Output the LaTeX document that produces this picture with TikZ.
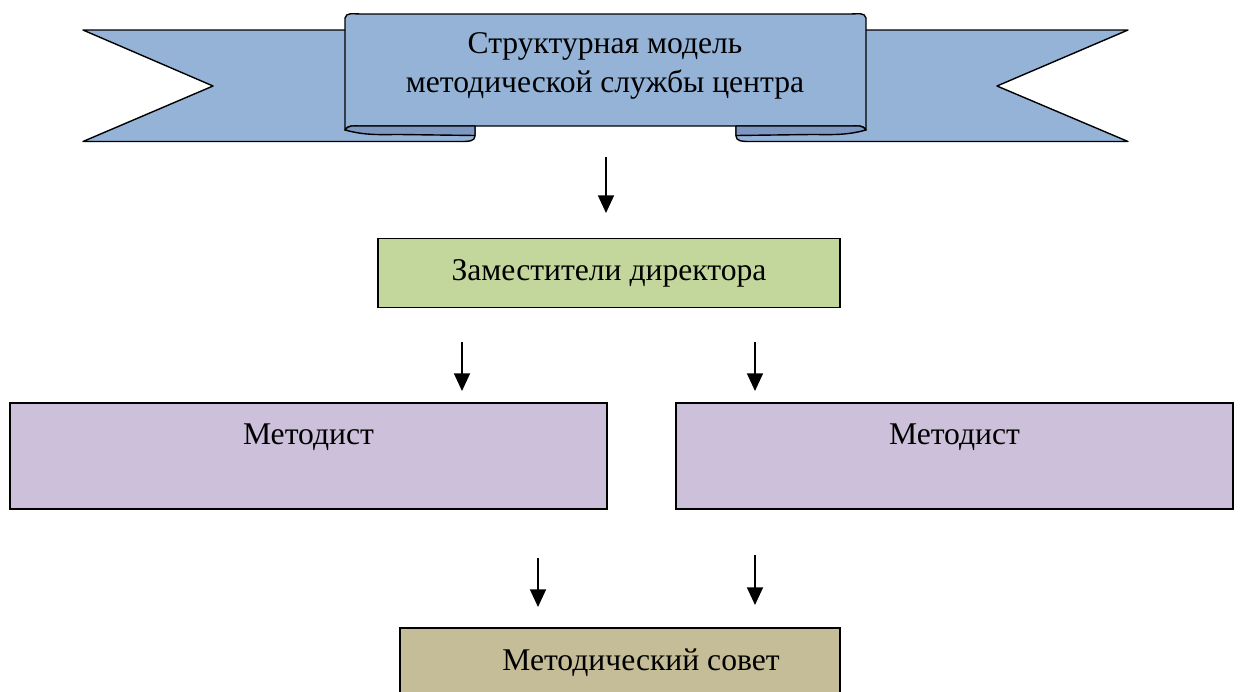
\documentclass[tikz,border=0pt]{standalone}
\usepackage{fontspec}
\setmainfont{Liberation Serif}
\usetikzlibrary{arrows.meta, positioning}

\definecolor{bannerblue}{HTML}{95B3D7}
\definecolor{curlblue}{HTML}{7E98C2}
\definecolor{zamgreen}{HTML}{C3D69B}
\definecolor{metpurple}{HTML}{CCC0DA}
\definecolor{sovettan}{HTML}{C4BD97}

\tikzset{
    box/.style={draw, line width=0.8pt, inner sep=0pt, font=\fontsize{18}{21.5}\selectfont},
    banner/.style={draw, line width=0.8pt, fill=bannerblue, line join=round},
    down/.style={-{Triangle[length=10pt,width=9pt]}, line width=1.1pt}
}

\begin{document}
\begin{tikzpicture}[x=0.02cm, y=-0.02cm]
            \clip (0,0) rectangle (1242,691);
            \useasboundingbox (0,0) rectangle (1242,691);
            % ribbon
            \draw[banner] (83,30) -- (475,30) -- (475,136) to[out=-90,in=0] (462,141.5) -- (83,141.5) -- (213,86) -- cycle;
            \draw[banner] (1128,30) -- (736,30) -- (736,136) to[out=-90,in=180] (749,141.5) -- (1128,141.5) -- (997,86) -- cycle;
            \draw[banner] (345,130) -- (345,18) to[out=80,in=180] (360,14) -- (851,14) to[out=0,in=100] (866,18)
                -- (866,130) to[out=120,in=0] (851,126) -- (360,126) to[out=180,in=60] cycle;
            \draw[banner, fill=curlblue] (345,130) to[out=60,in=180] (360,126) -- (475,126) -- (475,135.5) -- (400,134.5) to[out=180,in=-15] cycle;
            \draw[banner, fill=curlblue] (866,130) to[out=120,in=0] (851,126) -- (736,126) -- (736,135.5) -- (811,134.5) to[out=0,in=195] cycle;
            \node[font=\fontsize{18}{22.5}\selectfont, align=center] (title) at (605,66) {Структурная модель\\методической службы центра};

            % boxes
            \node[box, fill=zamgreen, minimum width=9.24cm, minimum height=1.38cm] (zam) at (609,273) {Заместители директора};
            \node[box, fill=metpurple, minimum width=11.94cm, text height=0.82cm, text depth=1.3cm] (metL) at (308.5,456) {Методист};
            \node[box, fill=metpurple, minimum width=11.14cm, text height=0.82cm, text depth=1.3cm] (metR) at (954.5,456) {Методист};
            \node[box, fill=sovettan, minimum width=8.8cm, minimum height=2.24cm] (sovet) at (620,684) {};
            \node[font=\fontsize{18}{21.5}\selectfont] (sovetT) at (641,663) {Методический совет};

            % arrows
            \coordinate (a1s) at (606,157);  \coordinate (a1e) at (606,213);
            \coordinate (a2s) at (462,342);  \coordinate (a2e) at (462,391);
            \coordinate (a3s) at (755,342);  \coordinate (a3e) at (755,391);
            \coordinate (a4s) at (538,558);  \coordinate (a4e) at (538,607);
            \coordinate (a5s) at (755,555);  \coordinate (a5e) at (755,605);
            \foreach \a in {a1,a2,a3,a4,a5}
                \draw[down] (\a s) -- (\a e);
        \end{tikzpicture}
\end{document}
